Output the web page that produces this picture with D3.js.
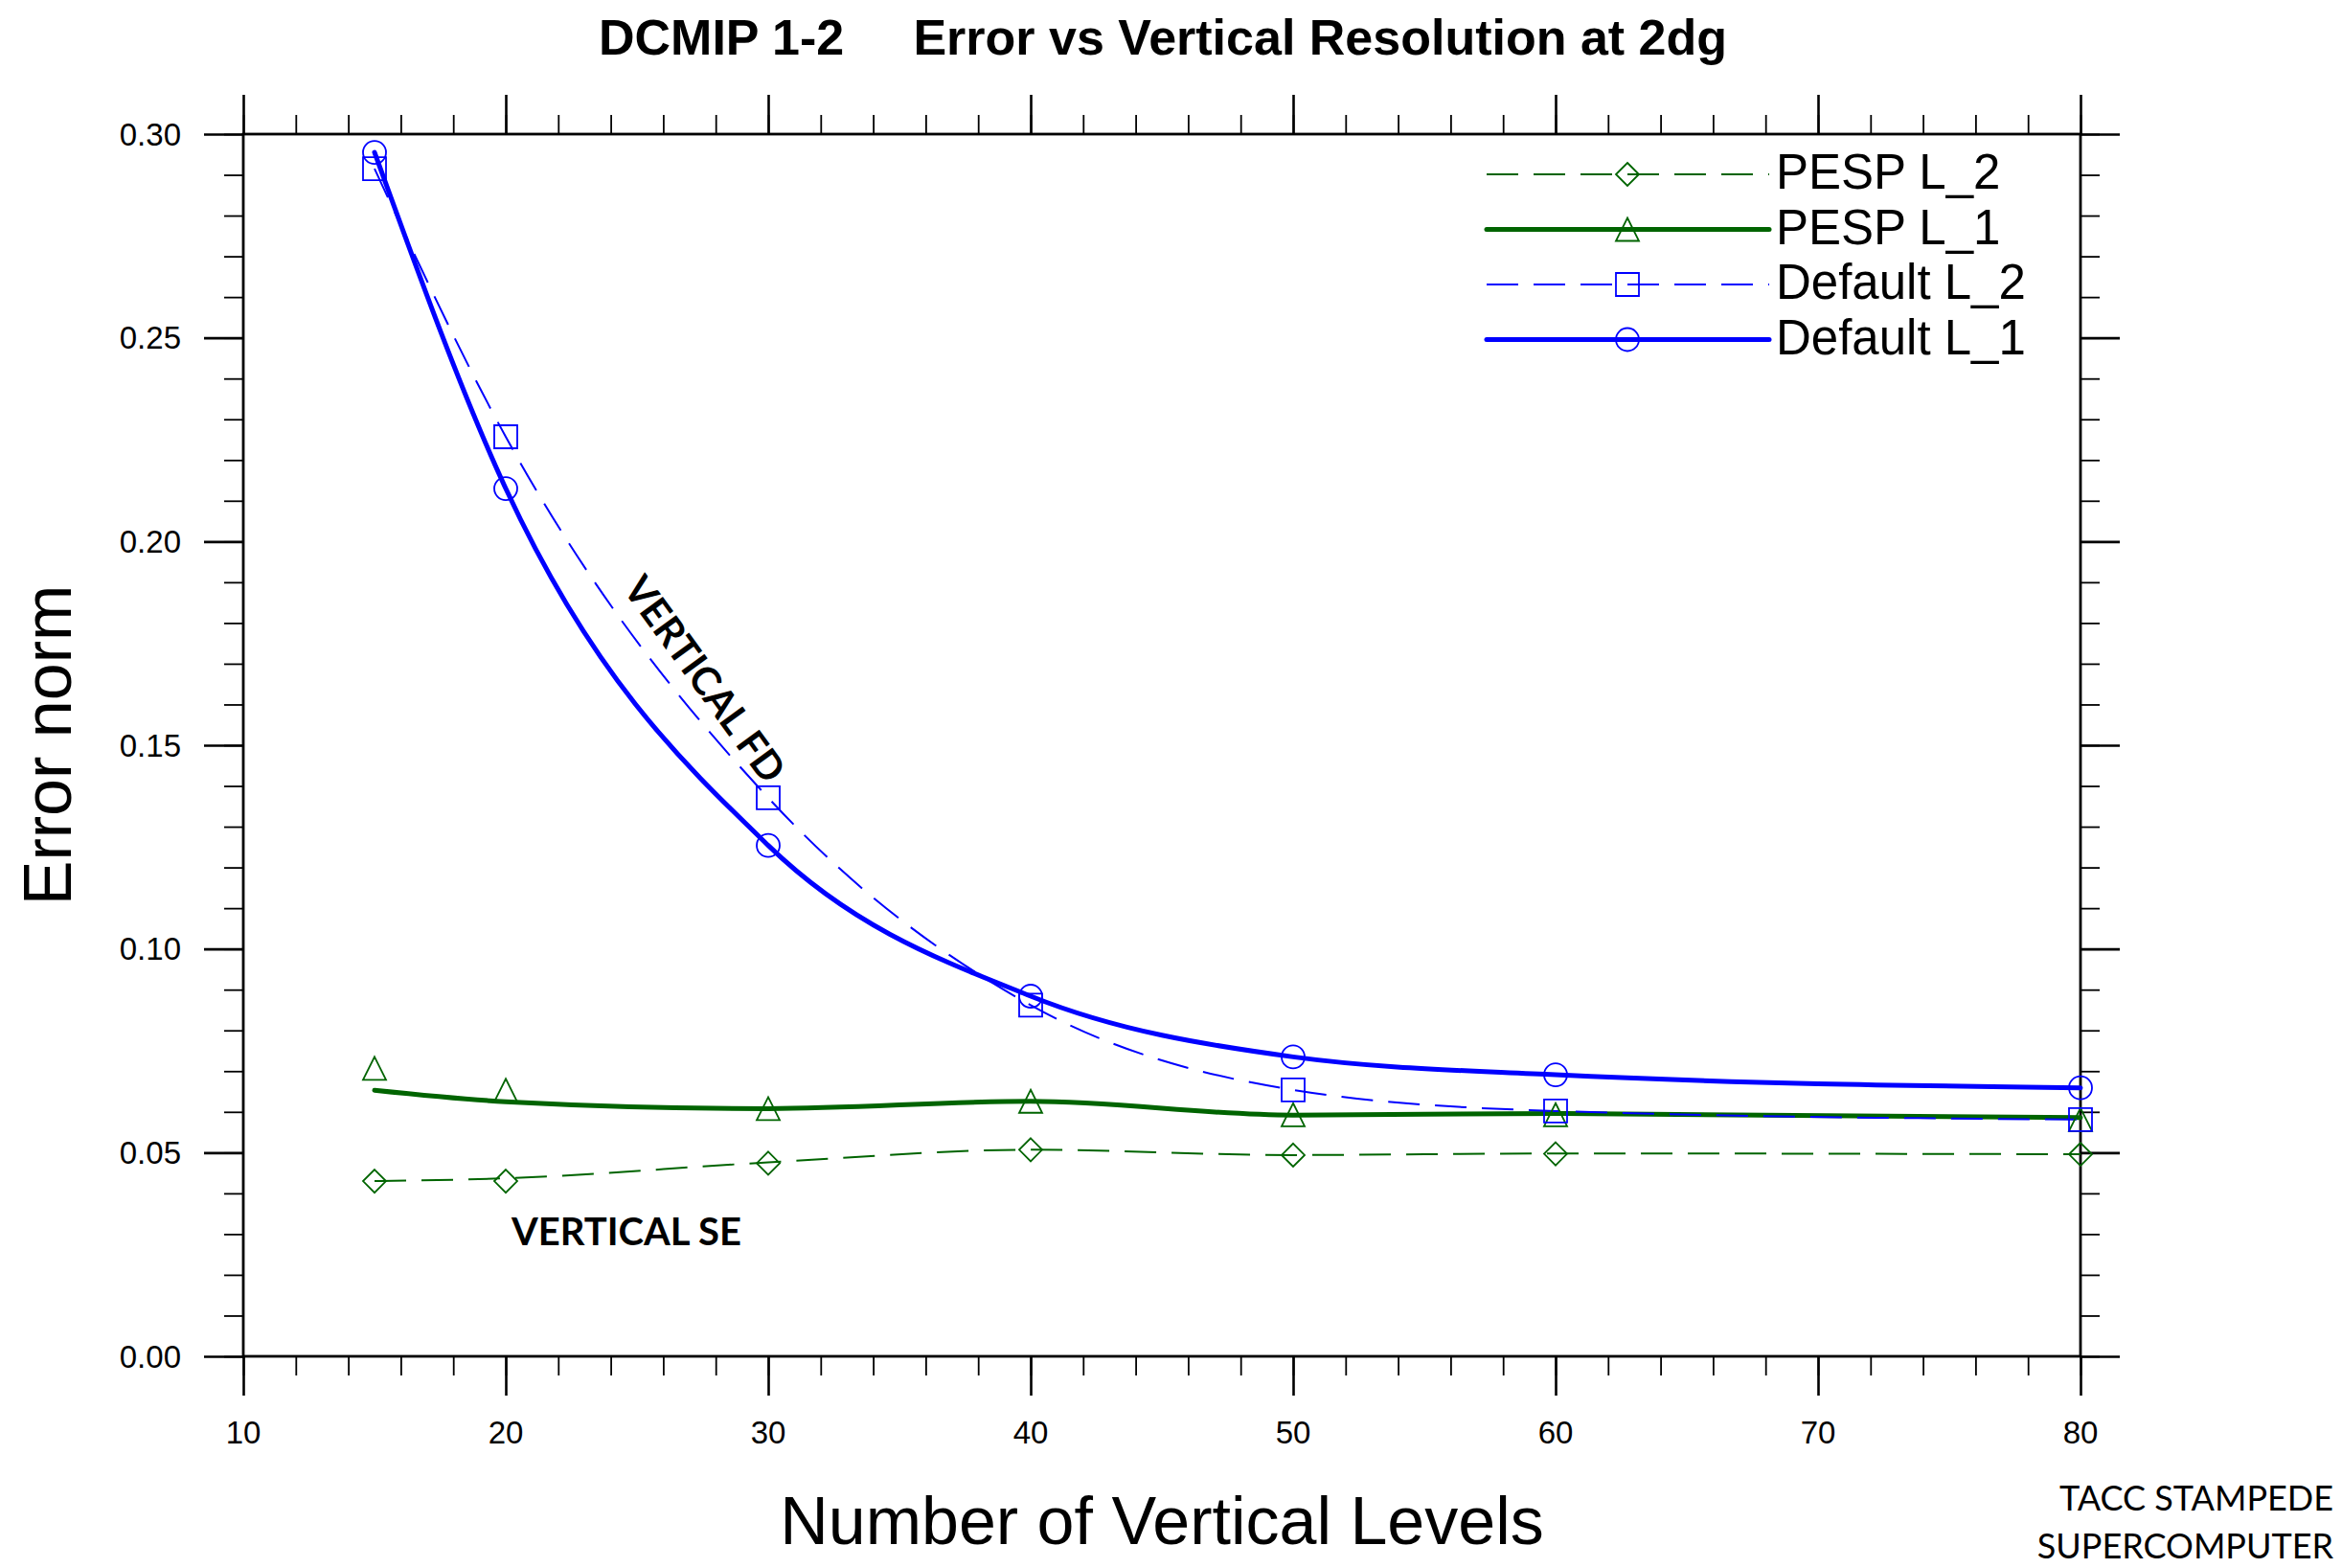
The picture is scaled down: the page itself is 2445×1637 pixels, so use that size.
<!DOCTYPE html>
<html>
<head>
<meta charset="utf-8">
<script src="https://cdn.jsdelivr.net/npm/d3@7"></script>
<style>
  body { margin: 0; background: #fff; }
  svg { display: block; }
</style>
</head>
<body>
<svg width="2445" height="1637"></svg>
<script>
// data
var levels = [15, 20, 30, 40, 50, 60, 80];

// marker values
var defaultL1 = [0.2955, 0.2130, 0.1254, 0.0884, 0.0735, 0.0691, 0.0659];
var defaultL2 = [0.2915, 0.2257, 0.1371, 0.0862, 0.0654, 0.0602, 0.0581];
var pespL1 = [0.0707, 0.0653, 0.0608, 0.0626, 0.0593, 0.0593, 0.0581];
var pespL2 = [0.0430, 0.0430, 0.0474, 0.0507, 0.0494, 0.0497, 0.0496];

// smoothed curves (where the drawn line passes at each level)
var defaultL1Fit = [0.2955, 0.2130, 0.1254, 0.0884, 0.0735, 0.0691, 0.0659];
var defaultL2Fit = [0.2915, 0.2257, 0.1371, 0.0862, 0.0654, 0.0602, 0.0581];
var pespL1Fit = [0.0653, 0.0625, 0.0608, 0.0626, 0.0592, 0.0596, 0.0586];
var pespL2Fit = [0.0430, 0.0437, 0.0476, 0.0507, 0.0494, 0.0498, 0.0496];

var xMajor = [10, 20, 30, 40, 50, 60, 70, 80];
var xMinor = d3.range(10, 81, 2);
var yMajor = [0, 0.05, 0.10, 0.15, 0.20, 0.25, 0.30];
var yMinor = d3.range(0, 31, 1).map(function(d) { return d / 100; });

var blue = "#0000ff", green = "#006400";

var series = [
  {name: "PESP L_2", values: pespL2, fit: pespL2Fit, color: green, width: 2, dash: "33,16", marker: "diamond"},
  {name: "PESP L_1", values: pespL1, fit: pespL1Fit, color: green, width: 5, dash: null, marker: "triangle"},
  {name: "Default L_2", values: defaultL2, fit: defaultL2Fit, color: blue, width: 2, dash: "33,16", marker: "square"},
  {name: "Default L_1", values: defaultL1, fit: defaultL1Fit, color: blue, width: 5, dash: null, marker: "circle"}
];

var svg = d3.select("svg"),
    box = {left: 254, right: 2172, top: 140, bottom: 1416};

var x = d3.scaleLinear().domain([10, 80]).range([box.left, box.right]),
    y = d3.scaleLinear().domain([0, 0.30]).range([box.bottom, box.top]);

var line = d3.line()
    .curve(d3.curveMonotoneX)
    .x(function(d) { return x(d[0]); })
    .y(function(d) { return y(d[1]); });

function markerPath(type, r) {
  if (type === "circle") {
    return "M" + (-r) + ",0A" + r + "," + r + " 0 1,0 " + r + ",0A" + r + "," + r + " 0 1,0 " + (-r) + ",0Z";
  }
  if (type === "square") return "M" + (-r) + "," + (-r) + "H" + r + "V" + r + "H" + (-r) + "Z";
  if (type === "triangle") return "M0," + (-r) + "L" + r + "," + r + "H" + (-r) + "Z";
  return "M0," + (-r) + "L" + r + ",0L0," + r + "L" + (-r) + ",0Z";
}

// ticks (outward on all four sides)
function tickAxis(axis, tx, ty, values, size, w) {
  var g = svg.append("g")
      .attr("transform", "translate(" + tx + "," + ty + ")")
      .call(axis.tickValues(values).tickSize(size).tickSizeOuter(0).tickFormat(""));
  g.select(".domain").remove();
  g.selectAll("line").attr("stroke", "#000").attr("stroke-width", w);
  g.selectAll("text").remove();
  return g;
}

tickAxis(d3.axisBottom(x), 0, box.bottom, xMinor, 20, 1.8);
tickAxis(d3.axisTop(x), 0, box.top, xMinor, 20, 1.8);
tickAxis(d3.axisLeft(y), box.left, 0, yMinor, 20, 1.8);
tickAxis(d3.axisRight(y), box.right, 0, yMinor, 20, 1.8);

tickAxis(d3.axisBottom(x), 0, box.bottom, xMajor, 41, 2.6);
tickAxis(d3.axisTop(x), 0, box.top, xMajor, 41, 2.6);
tickAxis(d3.axisLeft(y), box.left, 0, yMajor, 41, 2.6);
tickAxis(d3.axisRight(y), box.right, 0, yMajor, 41, 2.6);

// border
svg.append("rect")
    .attr("x", box.left).attr("y", box.top)
    .attr("width", box.right - box.left).attr("height", box.bottom - box.top)
    .attr("fill", "none").attr("stroke", "#000").attr("stroke-width", 2.8);

// tick labels
svg.append("g").selectAll("text")
  .data(xMajor)
  .enter().append("text")
    .attr("x", function(d) { return x(d); })
    .attr("y", 1507)
    .attr("text-anchor", "middle")
    .style("font", "33px 'Liberation Sans', Arial, sans-serif")
    .text(function(d) { return d; });

svg.append("g").selectAll("text")
  .data(yMajor)
  .enter().append("text")
    .attr("x", 189)
    .attr("y", function(d) { return y(d); })
    .attr("dy", "0.35em")
    .attr("text-anchor", "end")
    .style("font", "33px 'Liberation Sans', Arial, sans-serif")
    .text(d3.format(".2f"));

// lines and markers
var plot = svg.append("g");

series.forEach(function(s) {
  plot.append("path")
      .datum(levels.map(function(l, i) { return [l, s.fit[i]]; }))
      .attr("d", line)
      .attr("fill", "none")
      .attr("stroke", s.color)
      .attr("stroke-width", s.width)
      .attr("stroke-linecap", s.dash ? "butt" : "round")
      .attr("stroke-dasharray", s.dash);
});

series.forEach(function(s) {
  plot.selectAll(null)
    .data(levels.map(function(l, i) { return [l, s.values[i]]; }))
    .enter().append("path")
      .attr("transform", function(d) { return "translate(" + x(d[0]) + "," + y(d[1]) + ")"; })
      .attr("d", markerPath(s.marker, 12))
      .attr("fill", "none")
      .attr("stroke", s.color)
      .attr("stroke-width", 1.8);
});

// legend
var legend = svg.append("g").selectAll("g")
  .data(series)
  .enter().append("g")
    .attr("transform", function(d, i) { return "translate(0," + (182 + i * 57.5) + ")"; });

legend.append("line")
    .attr("x1", 1552).attr("x2", 1847)
    .attr("stroke", function(d) { return d.color; })
    .attr("stroke-width", function(d) { return d.width; })
    .attr("stroke-linecap", function(d) { return d.dash ? "butt" : "round"; })
    .attr("stroke-dasharray", function(d) { return d.dash; });

legend.append("path")
    .attr("transform", "translate(1699,0)")
    .attr("d", function(d) { return markerPath(d.marker, 12); })
    .attr("fill", "none")
    .attr("stroke", function(d) { return d.color; })
    .attr("stroke-width", 1.8);

legend.append("text")
    .attr("x", 1854)
    .attr("y", 15)
    .style("font", "51px 'Liberation Sans', Arial, sans-serif")
    .text(function(d) { return d.name; });

// titles
svg.append("text")
    .attr("x", 1214).attr("y", 57)
    .attr("text-anchor", "middle")
    .style("white-space", "pre")
    .style("font", "bold 52px 'Liberation Sans', Arial, sans-serif")
    .text("DCMIP 1-2     Error vs Vertical Resolution at 2dg");

svg.append("text")
    .attr("x", 1213).attr("y", 1612)
    .attr("text-anchor", "middle")
    .style("font", "70px 'Liberation Sans', Arial, sans-serif")
    .text("Number of Vertical Levels");

svg.append("text")
    .attr("transform", "translate(74,778) rotate(-90)")
    .attr("text-anchor", "middle")
    .style("font", "70px 'Liberation Sans', Arial, sans-serif")
    .text("Error norm");

// annotations
svg.append("text")
    .attr("transform", "translate(736,709) rotate(54)")
    .attr("dy", "0.36em")
    .attr("text-anchor", "middle")
    .style("font", "bold 41px Lato, 'Open Sans', sans-serif")
    .text("VERTICAL FD");

svg.append("text")
    .attr("x", 654).attr("y", 1300)
    .attr("text-anchor", "middle")
    .style("font", "bold 40px Lato, 'Open Sans', sans-serif")
    .text("VERTICAL SE");

svg.append("text")
    .attr("x", 2436).attr("y", 1577)
    .attr("text-anchor", "end")
    .style("font", "36px Lato, 'Open Sans', sans-serif")
    .text("TACC STAMPEDE");

svg.append("text")
    .attr("x", 2436).attr("y", 1627)
    .attr("text-anchor", "end")
    .style("font", "36px Lato, 'Open Sans', sans-serif")
    .text("SUPERCOMPUTER");
</script>
</body>
</html>
